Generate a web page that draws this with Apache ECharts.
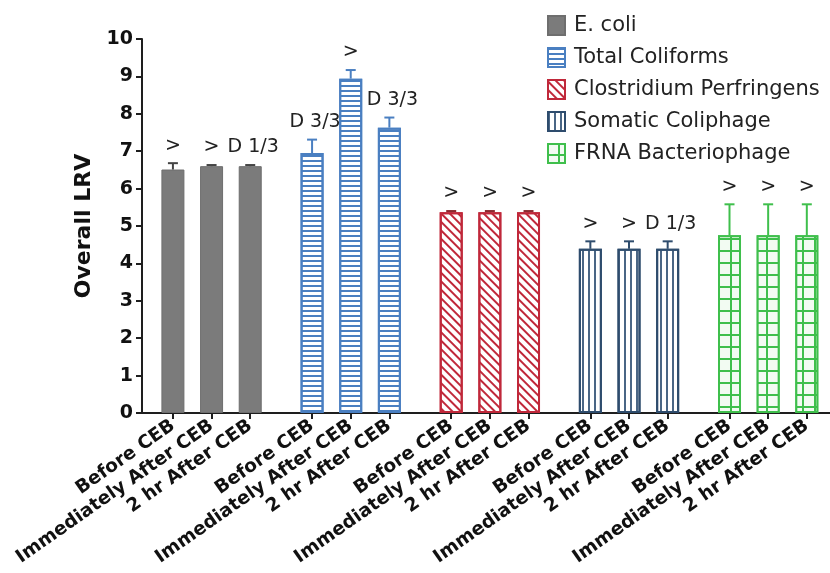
<!DOCTYPE html>
<html>
<head>
<meta charset="utf-8">
<script src="https://cdn.jsdelivr.net/npm/echarts@6/dist/echarts.min.js"></script>
<style>
  html, body { margin: 0; padding: 0; background: #fff; }
  #chart { width: 830px; height: 573px; }
</style>
</head>
<body>
<div id="chart"></div>
<script>
// Sampling time points (x labels, repeated for each organism)
const timepoints = ['Before CEB', 'Immediately After CEB', '2 hr After CEB'];
// Organisms (legend)
const organisms = ['E. coli', 'Total Coliforms', 'Clostridium Perfringens', 'Somatic Coliphage', 'FRNA Bacteriophage'];

// Mean overall LRV per organism and time point
const lrvEcoli          = [6.51, 6.60, 6.60];
const lrvTotalColiforms = [6.95, 8.94, 7.63];
const lrvClostridium    = [5.37, 5.37, 5.37];
const lrvSomatic        = [4.39, 4.39, 4.39];
const lrvFrna           = [4.75, 4.75, 4.75];

// Standard deviation (upper error bar)
const sdEcoli          = [0.17, 0.03, 0.03];
const sdTotalColiforms = [0.36, 0.23, 0.27];
const sdClostridium    = [0.03, 0.03, 0.03];
const sdSomatic        = [0.20, 0.20, 0.20];
const sdFrna           = [0.83, 0.83, 0.83];

// Annotation above each bar (> = greater than, D n/3 = detects)
const noteEcoli          = ['>', '>', 'D 1/3'];
const noteTotalColiforms = ['D 3/3', '>', 'D 3/3'];
const noteClostridium    = ['>', '>', '>'];
const noteSomatic        = ['>', '>', 'D 1/3'];
const noteFrna           = ['>', '>', '>'];

// Y axis ticks
const yMin = 0, yMax = 10, yStep = 1;

const lrvAll  = [lrvEcoli, lrvTotalColiforms, lrvClostridium, lrvSomatic, lrvFrna];
const sdAll   = [sdEcoli, sdTotalColiforms, sdClostridium, sdSomatic, sdFrna];
const noteAll = [noteEcoli, noteTotalColiforms, noteClostridium, noteSomatic, noteFrna];

// Category slots: bars 5 slots apart inside a group, 8 slots between groups
const SLOT_COUNT = 90, FIRST = 4, IN_GROUP = 5, GROUP_STEP = 18;
const slotOf = (g, k) => FIRST + g * GROUP_STEP + k * IN_GROUP;

const categories = new Array(SLOT_COUNT).fill('');
organisms.forEach((_, g) => timepoints.forEach((t, k) => { categories[slotOf(g, k)] = t; }));

const FONT = "'DejaVu Sans', 'Liberation Sans', Arial, sans-serif";

const styles = [
  { color: '#7b7b7b', borderColor: '#6e6e6e', borderWidth: 1, err: '#444444' },
  { color: '#ffffff', borderColor: '#4a7fc1', borderWidth: 2, err: '#4a7fc1',
    decal: { symbol: 'rect', symbolSize: 1, color: '#4a7fc1', dashArrayX: [1, 0], dashArrayY: [2, 3], rotation: 0 } },
  { color: '#ffffff', borderColor: '#c0283a', borderWidth: 2, err: '#8a2a30',
    decal: { symbol: 'rect', symbolSize: 1, color: '#c0283a', dashArrayX: [1, 0], dashArrayY: [2, 4], rotation: Math.PI / 4 } },
  { color: '#ffffff', borderColor: '#2e4c6d', borderWidth: 2, err: '#2e4c6d',
    decal: { symbol: 'rect', symbolSize: 1, color: '#4a6685', dashArrayX: [2, 4], dashArrayY: [1, 0], rotation: 0 } },
  { color: '#3fbf4c', borderColor: '#3fbf4c', borderWidth: 2, err: '#3fbf4c',
    decal: { symbol: 'rect', symbolSize: 1, color: '#f2fbf2', dashArrayX: [10, 2], dashArrayY: [10, 2], rotation: 0 } }
];

const barSeries = organisms.map((name, g) => {
  const data = new Array(SLOT_COUNT).fill(null);
  lrvAll[g].forEach((v, k) => { data[slotOf(g, k)] = v; });
  const s = styles[g];
  const itemStyle = { color: s.color, borderColor: s.borderColor, borderWidth: s.borderWidth };
  if (s.decal) itemStyle.decal = s.decal;
  return {
    name, type: 'bar', data, barWidth: 23, barGap: '-100%',
    itemStyle, emphasis: { disabled: true }, z: 2
  };
});

// Error bars and annotations
const errRows = [];
organisms.forEach((_, g) => lrvAll[g].forEach((v, k) => {
  errRows.push({ slot: slotOf(g, k), value: v, sd: sdAll[g][k], note: noteAll[g][k], color: styles[g].err });
}));

const errSeries = {
  type: 'custom',
  name: 'errors',
  data: errRows.map(r => [r.slot, r.value, r.sd]),
  encode: { x: 0, y: 1 },
  z: 5,
  silent: true,
  renderItem(params, api) {
    const r = errRows[params.dataIndex];
    const base = api.coord([r.slot, r.value]);
    const top = api.coord([r.slot, r.value + r.sd]);
    const half = 5;
    return {
      type: 'group',
      children: [
        { type: 'line', shape: { x1: base[0], y1: base[1], x2: top[0], y2: top[1] },
          style: { stroke: r.color, lineWidth: 2 } },
        { type: 'line', shape: { x1: top[0] - half, y1: top[1], x2: top[0] + half, y2: top[1] },
          style: { stroke: r.color, lineWidth: 2 } },
        { type: 'text', x: top[0] + (r.note.length > 1 ? 3 : 0), y: top[1] - 8,
          style: { text: r.note, fill: '#222', font: '19px ' + FONT,
                   align: 'center', verticalAlign: 'bottom',
                   textAlign: 'center', textVerticalAlign: 'bottom' } }
      ]
    };
  }
};

const chart = echarts.init(document.getElementById('chart'), null, { renderer: 'canvas' });
chart.setOption({
  animation: false,
  backgroundColor: '#ffffff',
  grid: { left: 142, right: 0, top: 39, bottom: 160, containLabel: false, outerBoundsMode: 'none' },
  legend: {
    data: organisms,
    orient: 'vertical',
    left: 542, top: 10,
    icon: 'rect',
    itemWidth: 17, itemHeight: 19,
    itemGap: 11,
    selectedMode: false,
    textStyle: { fontFamily: FONT, fontSize: 21, color: '#222', padding: [0, 0, 0, 4] }
  },
  xAxis: {
    type: 'category',
    data: categories,
    boundaryGap: false,
    axisLine: { lineStyle: { color: '#1e1e1e', width: 2 } },
    axisTick: { show: true, alignWithLabel: true, length: 6,
      interval: (i, v) => v !== '', lineStyle: { color: '#1e1e1e', width: 2 } },
    axisLabel: { interval: (i, v) => v !== '', rotate: 35, margin: 11,
      fontFamily: FONT, fontSize: 18.5, fontWeight: 'bold', color: '#111' },
    splitLine: { show: false }
  },
  yAxis: {
    type: 'value',
    min: yMin, max: yMax, interval: yStep,
    name: 'Overall LRV',
    nameLocation: 'middle',
    nameGap: 46,
    nameTextStyle: { fontFamily: FONT, fontSize: 22, fontWeight: 'bold', color: '#111' },
    axisLine: { show: true, lineStyle: { color: '#1e1e1e', width: 2 } },
    axisTick: { show: true, length: 6, lineStyle: { color: '#1e1e1e', width: 2 } },
    axisLabel: { margin: 9, fontFamily: FONT, fontSize: 19, fontWeight: 'bold', color: '#111' },
    splitLine: { show: false }
  },
  series: [...barSeries, errSeries]
});
</script>
</body>
</html>
